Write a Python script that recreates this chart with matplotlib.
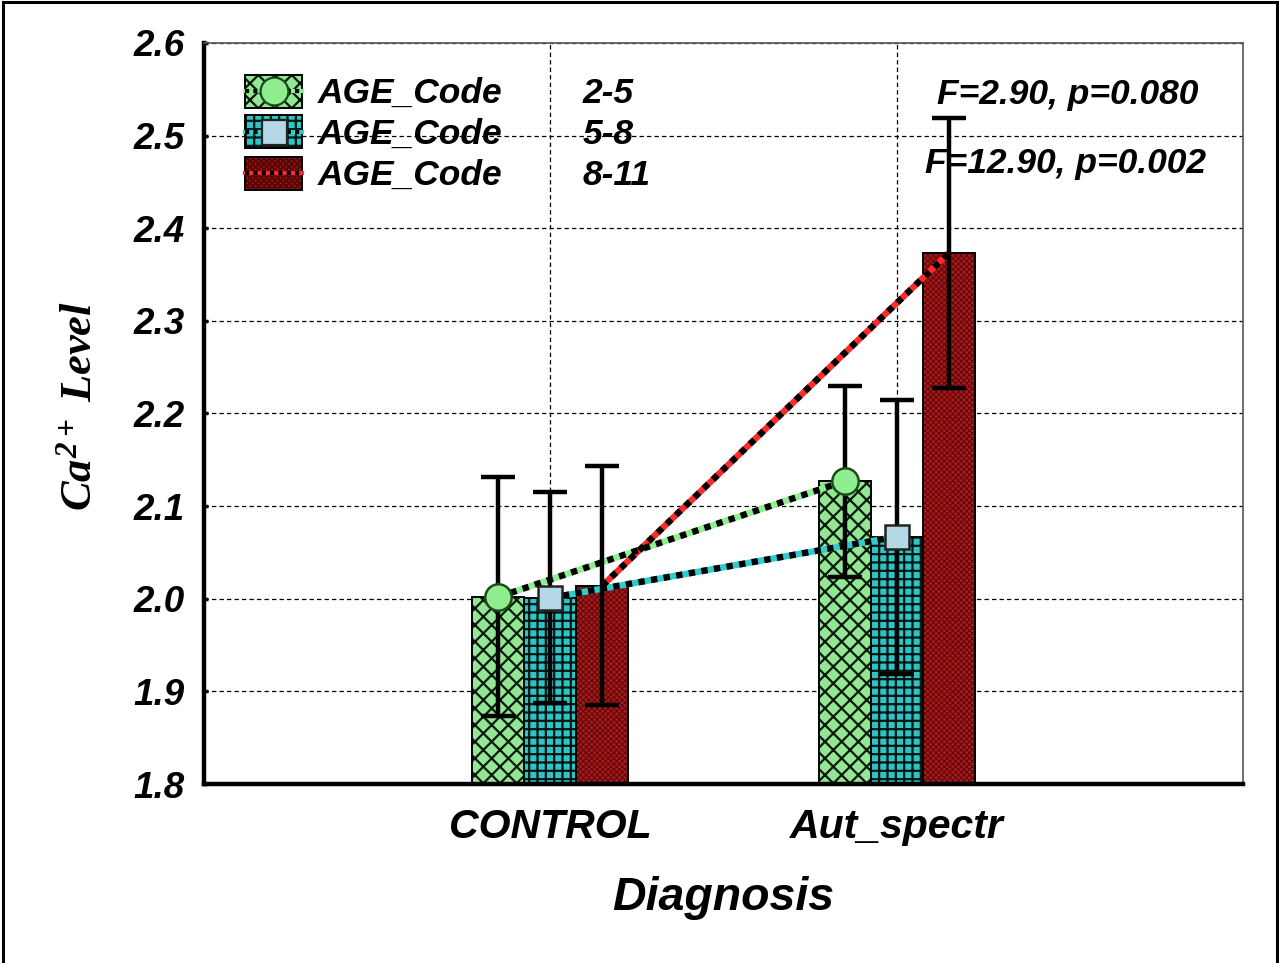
import matplotlib
matplotlib.use("Agg")
import matplotlib.pyplot as plt
from matplotlib.patches import Rectangle
from matplotlib.lines import Line2D
import numpy as np

# ---- data -------------------------------------------------------------
categories = ["CONTROL", "Aut_spectr"]
age_codes = ["2-5", "5-8", "8-11"]

mean_2_5 = [2.002, 2.127]
err_2_5 = [0.129, 0.103]
mean_5_8 = [2.001, 2.067]
err_5_8 = [0.114, 0.148]
mean_8_11 = [2.014, 2.373]
err_8_11 = [0.129, 0.146]

stats_text = ["F=2.90, p=0.080", "F=12.90, p=0.002"]
y_ticks = [1.8, 1.9, 2.0, 2.1, 2.2, 2.3, 2.4, 2.5, 2.6]

# ---- style ------------------------------------------------------------
plt.rcParams["font.family"] = ["Liberation Sans", "DejaVu Sans"]
plt.rcParams["mathtext.fontset"] = "custom"
plt.rcParams["mathtext.it"] = "Liberation Serif:italic:bold"
plt.rcParams["mathtext.rm"] = "Liberation Serif:italic:bold"
plt.rcParams["mathtext.bf"] = "Liberation Serif:italic:bold"
plt.rcParams["hatch.linewidth"] = 1.6

series = [
    dict(means=mean_2_5, errs=err_2_5, face="#93e693", hatch="xx", hcol="#0a1a0a",
         line="#90ee90", marker="o", mface="#90ee90", medge="#1b4d1b", ms=19),
    dict(means=mean_5_8, errs=err_5_8, face="#2ec4c4", hatch="++", hcol="#061414",
         line="#2ecccc", marker="s", mface="#b4d8e6", medge="#222222", ms=17),
    dict(means=mean_8_11, errs=err_8_11, face="#a81a1a", hatch="xxxxxx", hcol="#5a0606",
         line="#ff2a2a", marker=None, mface="none", medge="none", ms=0),
]

W, H = 1279, 963
fig = plt.figure(figsize=(W / 100, H / 100), dpi=100)
ax = fig.add_axes([204 / W, (H - 784) / H, (1243 - 204) / W, (784 - 43) / H])

x = np.arange(1, len(categories) + 1)
bw = 0.15
offsets = [-bw, 0.0, bw]
base = 1.8

for s, off in zip(series, offsets):
    xs = x + off
    heights = np.array(s["means"]) - base
    # hatched fill
    hb = ax.bar(xs, heights, bw, bottom=base, color=s["face"], edgecolor=s["hcol"],
                hatch=s["hatch"], linewidth=0, zorder=2)
    if s["hatch"] == "xxxxxx":
        for p in hb:
            if hasattr(p, "set_hatch_linewidth"):
                p.set_hatch_linewidth(0.7)
    # outline
    ax.bar(xs, heights, bw, bottom=base, facecolor="none", edgecolor="black",
           linewidth=1.4, zorder=3)

# connecting lines between diagnosis groups (two-tone dotted)
for s, off in zip(series, offsets):
    xs = x + off
    ax.plot(xs, s["means"], color=s["line"], lw=4.6, solid_capstyle="butt", zorder=4)
    ax.plot(xs, s["means"], color="black", lw=4.6, linestyle=(0, (1.0, 1.0)),
            dash_capstyle="butt", zorder=4.1)

# error bars and markers
for s, off in zip(series, offsets):
    xs = x + off
    ax.errorbar(xs, s["means"], yerr=s["errs"], fmt="none", ecolor="black",
                elinewidth=3.2, capsize=12, capthick=3.2, zorder=5)
    if s["marker"]:
        ax.plot(xs, s["means"], linestyle="none", marker=s["marker"], ms=s["ms"],
                markerfacecolor=s["mface"], markeredgecolor=s["medge"], mew=1.8, zorder=6)

# axes cosmetics
ax.set_xlim(0, 3)
ax.set_ylim(1.8, 2.6)
ax.set_yticks(y_ticks)
ax.set_yticklabels([f"{t:.1f}" for t in y_ticks])
ax.set_xticks(x)
ax.set_xticklabels(categories)
ax.grid(True, color="black", linestyle=(0, (3.5, 2.5)), linewidth=0.9, zorder=0)
ax.set_axisbelow(True)

for side in ("left", "bottom"):
    ax.spines[side].set_linewidth(3.2)
    ax.spines[side].set_color("black")
for side in ("top", "right"):
    ax.spines[side].set_linewidth(1.2)
    ax.spines[side].set_color("#555555")

ax.tick_params(axis="y", direction="in", length=3, width=2.5, pad=14,
               labelsize=26.5)
ax.tick_params(axis="x", length=0, pad=17, labelsize=29.5)
for lab in ax.get_yticklabels() + ax.get_xticklabels():
    lab.set_fontweight("bold")
    lab.set_fontstyle("italic")

ax.set_xlabel("Diagnosis", fontsize=33.5, fontweight="bold", fontstyle="italic",
              labelpad=22)
ax.set_ylabel(r"$Ca^{2+}\ Level$", fontsize=32)
ax.yaxis.set_label_coords(-0.100, 0.510)

# statistics annotations
ax.text(0.8316, 0.930, stats_text[0], transform=ax.transAxes, ha="center",
        va="center", fontsize=25.5, fontweight="bold", fontstyle="italic", zorder=7)
ax.text(0.8287, 0.838, stats_text[1], transform=ax.transAxes, ha="center",
        va="center", fontsize=25.5, fontweight="bold", fontstyle="italic", zorder=7)

# legend drawn in axes coordinates
key_x0, key_w, key_h = 0.0395, 0.0548, 0.0445
row_y = [0.935, 0.880, 0.8245]
for s, code, yc in zip(series, age_codes, row_y):
    r = Rectangle((key_x0, yc - key_h / 2), key_w, key_h, transform=ax.transAxes,
                  facecolor=s["face"], edgecolor=s["hcol"], hatch=s["hatch"],
                  linewidth=0, zorder=8)
    ax.add_patch(r)
    ax.add_patch(Rectangle((key_x0, yc - key_h / 2), key_w, key_h,
                           transform=ax.transAxes, facecolor="none",
                           edgecolor="black", linewidth=1.4, zorder=8.1))
    lx = [key_x0, key_x0 + key_w]
    ax.add_line(Line2D(lx, [yc, yc], transform=ax.transAxes, color=s["line"],
                       lw=3, zorder=8.2))
    ax.add_line(Line2D(lx, [yc, yc], transform=ax.transAxes, color="black",
                       lw=3, linestyle=(0, (1.0, 1.0)), zorder=8.3))
    if s["marker"]:
        ax.add_line(Line2D([key_x0 + key_w / 2], [yc], transform=ax.transAxes,
                           linestyle="none", marker=s["marker"], ms=s["ms"] + 1,
                           markerfacecolor=s["mface"], markeredgecolor=s["medge"],
                           mew=1.6, zorder=8.4))
    ax.text(0.1097, yc - 0.003, "AGE_Code", transform=ax.transAxes, ha="left",
            va="center", fontsize=25.5, fontweight="bold", fontstyle="italic",
            zorder=9)
    ax.text(0.3648, yc - 0.003, code, transform=ax.transAxes, ha="left", va="center",
            fontsize=25.5, fontweight="bold", fontstyle="italic", zorder=9)

# outer frame of the figure
fig.patches.append(Rectangle((2.5 / W, -0.02), (W - 5) / W, 1.02 - 2.5 / H,
                             transform=fig.transFigure, facecolor="none",
                             edgecolor="black", linewidth=2.2))

fig.savefig("out.png", dpi=100)
